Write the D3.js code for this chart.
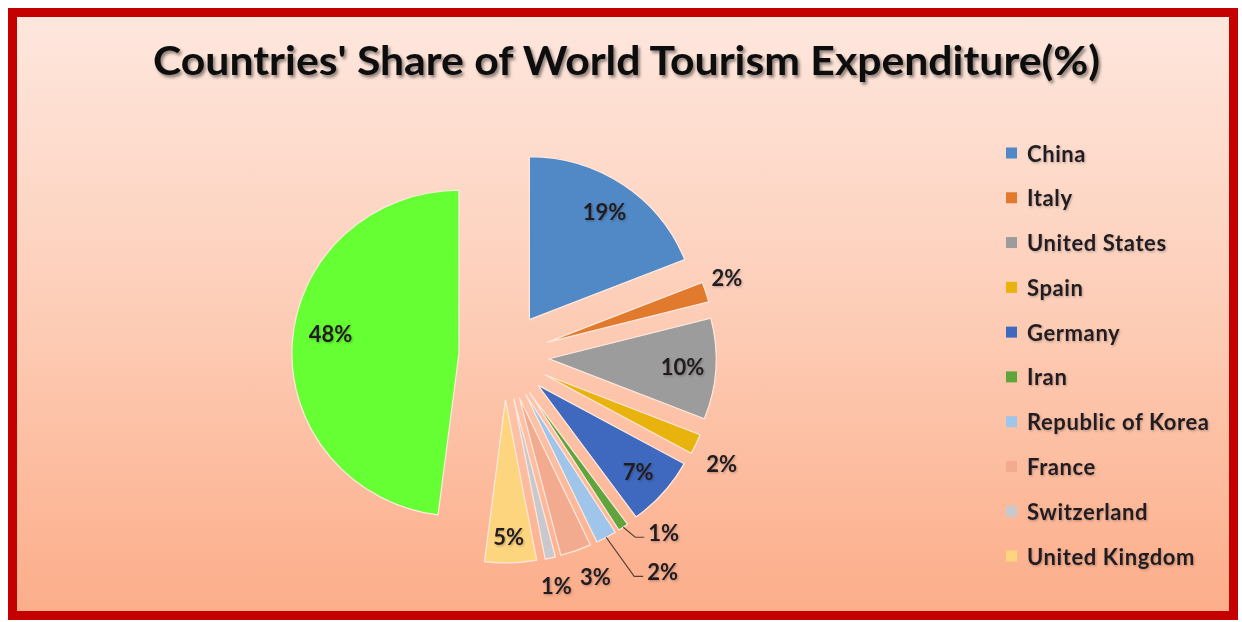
<!DOCTYPE html>
<html>
<head>
<meta charset="utf-8">
<script src="https://cdn.jsdelivr.net/npm/d3@7"></script>
<style>
  html, body { margin: 0; padding: 0; background: #ffffff; }
  svg { display: block; }
</style>
</head>
<body>
<svg id="chart" width="1242" height="622"></svg>
<script>
// Share of world tourism expenditure by country (%)
const countries = ["China", "Italy", "United States", "Spain", "Germany", "Iran",
  "Republic of Korea", "France", "Switzerland", "United Kingdom", "Others"];
const shares = [19, 2, 10, 2, 7, 1, 2, 3, 1, 5, 48];
const sliceColors = ["#5089c6", "#e27a2e", "#9c9c9c", "#e8b30c", "#3f69be", "#5fa53c",
  "#9fc5ea", "#f2ab8e", "#c7c9cf", "#fed57f", "#66ff33"];
const legendNames = countries.slice(0, 10);
// where each value label sits: inside the slice, outside it, or outside with a leader line
const labelModes = ["in", "out", "in", "out", "in", "leader", "leader", "out", "out", "in", "in"];

const W = 1242, H = 622;
const FONT = "Lato, 'Open Sans', 'Noto Sans', sans-serif";
const svg = d3.select("#chart");
const defs = svg.append("defs");

// panel background: pale peach fading to salmon
const bg = defs.append("linearGradient").attr("id", "bg")
  .attr("x1", 0).attr("y1", 0).attr("x2", 0).attr("y2", 1);
bg.append("stop").attr("offset", "0%").attr("stop-color", "#fee7de");
bg.append("stop").attr("offset", "45%").attr("stop-color", "#fdd0bb");
bg.append("stop").attr("offset", "100%").attr("stop-color", "#fcad89");

const titleShadow = defs.append("filter").attr("id", "titleShadow")
  .attr("x", "-5%").attr("y", "-30%").attr("width", "110%").attr("height", "160%");
titleShadow.append("feDropShadow").attr("dx", 2).attr("dy", 2.5)
  .attr("stdDeviation", 1.6).attr("flood-color", "#000").attr("flood-opacity", 0.45);

const softShadow = defs.append("filter").attr("id", "softShadow")
  .attr("x", "-20%").attr("y", "-40%").attr("width", "140%").attr("height", "180%");
softShadow.append("feDropShadow").attr("dx", 1).attr("dy", 1.2)
  .attr("stdDeviation", 1).attr("flood-color", "#000").attr("flood-opacity", 0.25);

// frame
svg.append("rect")
  .attr("x", 12.5).attr("y", 12.5).attr("width", 1221).attr("height", 603)
  .attr("fill", "url(#bg)").attr("stroke", "#c40000").attr("stroke-width", 9);

// title
svg.append("text")
  .attr("x", 153).attr("y", 75)
  .attr("textLength", 947).attr("lengthAdjust", "spacingAndGlyphs")
  .attr("font-family", FONT).attr("font-weight", 700).attr("font-size", 40)
  .attr("fill", "#111").attr("filter", "url(#titleShadow)")
  .text("Countries' Share of World Tourism Expenditure(%)");

// exploded pie
const cx = 504, cy = 356, r = 163, explode = 44, sx = 1.025;
const data = countries.map((name, i) => ({ name, value: shares[i], color: sliceColors[i], mode: labelModes[i] }));
const arcs = d3.pie().sort(null).value(d => d.value).startAngle(0).endAngle(2 * Math.PI)(data);
const arcGen = d3.arc().innerRadius(0).outerRadius(r);

const polar = (a, dist) => [dist * Math.sin(a), -dist * Math.cos(a)];
const toScreen = ([x, y]) => [cx + x * sx, cy + y];
const mid = d => (d.startAngle + d.endAngle) / 2;

const pieG = svg.append("g").attr("transform", `translate(${cx},${cy}) scale(${sx},1)`);
pieG.selectAll("path").data(arcs).join("path")
  .attr("transform", d => { const [ox, oy] = polar(mid(d), explode); return `translate(${ox},${oy})`; })
  .attr("d", arcGen)
  .attr("fill", d => d.data.color)
  .attr("stroke", "#ffe9df").attr("stroke-width", 1.2)
  .attr("vector-effect", "non-scaling-stroke");

// value labels: leader elbows and small nudges (px) that keep labels clear of each other
const leaderLayout = { "Iran": [12, 10], "Republic of Korea": [28, 39] };
const labelNudge = {
  "Italy": [-6, -6], "Spain": [0, 8], "France": [10, 0], "United Kingdom": [-1, 6], "Others": [5, -12]
};
const labelG = svg.append("g")
  .attr("font-family", FONT).attr("font-weight", 700).attr("font-size", 22)
  .attr("fill", "#231f20").attr("filter", "url(#softShadow)");

arcs.forEach(d => {
  const m = mid(d);
  const [ox, oy] = polar(m, explode);
  const txt = d.data.value + "%";
  if (d.data.mode === "leader") {
    const [tx, ty] = polar(m, r);
    const tip = toScreen([ox + tx, oy + ty]);
    const [ex, ey] = leaderLayout[d.data.name];
    const elbow = [tip[0] + ex, tip[1] + ey];
    const end = [elbow[0] + 9, elbow[1]];
    svg.append("path")
      .attr("d", d3.line()([tip, elbow, end]))
      .attr("fill", "none").attr("stroke", "#5b4038").attr("stroke-width", 1.1);
    labelG.append("text")
      .attr("x", end[0] + 4).attr("y", end[1] - 5)
      .attr("text-anchor", "start").attr("dominant-baseline", "central")
      .text(txt);
  } else {
    const dist = d.data.mode === "in" ? 0.8 * r : 1.17 * r;
    const [lx, ly] = polar(m, dist);
    const p = toScreen([ox + lx, oy + ly]);
    const [nx, ny] = labelNudge[d.data.name] || [0, 0];
    labelG.append("text")
      .attr("x", p[0] + nx).attr("y", p[1] + ny)
      .attr("text-anchor", "middle").attr("dominant-baseline", "central")
      .text(txt);
  }
});

// legend
const legendY = d3.scalePoint().domain(legendNames).range([153, 556]);
const legendG = svg.append("g")
  .attr("font-family", FONT).attr("font-weight", 700).attr("font-size", 22)
  .attr("letter-spacing", 0.6);
legendNames.forEach((name, i) => {
  const y = legendY(name);
  legendG.append("rect")
    .attr("x", 1006).attr("y", y - 5.5).attr("width", 11).attr("height", 11)
    .attr("fill", sliceColors[i]);
  legendG.append("text")
    .attr("x", 1027).attr("y", y)
    .attr("dominant-baseline", "central")
    .attr("fill", "#231f20").attr("filter", "url(#softShadow)")
    .text(name);
});
</script>
</body>
</html>
